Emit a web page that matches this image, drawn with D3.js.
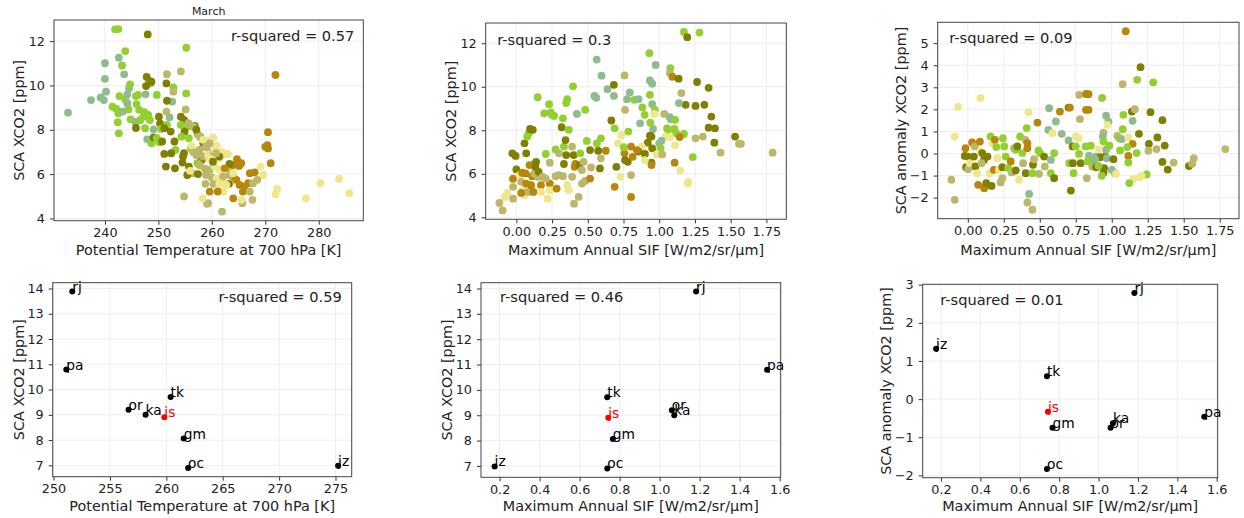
<!DOCTYPE html>
<html>
<head>
<meta charset="utf-8">
<script src="https://cdn.jsdelivr.net/npm/d3@7"></script>
<style>
  body { margin: 0; background: #fff; }
  svg { font-family: "DejaVu Sans", sans-serif; }
  .tick text { fill: #222; }
</style>
</head>
<body>
<svg id="fig" width="1244" height="518"></svg>
<script>
var svg = d3.select("#fig");

// colour keys used by the monthly points
var colorKey = {kh: "#f0e68c", ol: "#808000", dg: "#b8860b", yg: "#92d030", sg: "#8fbc8f", tn: "#bdb76b"};

// top left: potential temperature vs SCA XCO2 (March)
var tempPts = [
[233.1,8.77,"sg"],[241.9,12.53,"yg"],[242.5,12.54,"yg"],[248.0,12.3,"ol"],[255.2,11.7,"yg"],[243.8,11.55,"yg"],[240.0,11.0,"sg"],[242.6,11.25,"sg"],[243.2,10.9,"yg"],[243.6,10.5,"sg"],[240.0,10.3,"sg"],[240.2,9.72,"sg"],[237.4,9.34,"sg"],[239.2,9.46,"sg"],[239.8,9.34,"sg"],[241.4,9.04,"yg"],[242.1,8.95,"yg"],[242.5,8.74,"yg"],[242.4,8.34,"yg"],[242.6,7.84,"yg"],[242.7,9.52,"yg"],[243.3,8.82,"sg"],[243.8,9.37,"yg"],[244.2,9.6,"sg"],[244.5,9.87,"sg"],[244.7,10.05,"yg"],[244.4,8.92,"yg"],[244.8,8.47,"yg"],[244.2,9.19,"sg"],[245.8,9.52,"yg"],[246.2,9.57,"yg"],[245.9,9.16,"yg"],[245.7,8.35,"sg"],[245.8,8.08,"ol"],[246.4,8.9,"yg"],[246.6,8.44,"yg"],[247.2,8.59,"yg"],[247.6,9.6,"sg"],[247.8,10.39,"ol"],[248.3,10.2,"ol"],[248.5,10.09,"sg"],[248.7,10.17,"ol"],[247.7,9.97,"ol"],[247.4,8.8,"yg"],[248.1,8.67,"yg"],[248.4,8.44,"yg"],[247.5,8.07,"yg"],[247.9,7.57,"sg"],[248.7,7.39,"yg"],[249.1,7.66,"ol"],[249.1,8.02,"sg"],[249.7,9.57,"yg"],[250.1,8.59,"ol"],[250.3,8.29,"ol"],[250.5,8.04,"yg"],[249.7,7.62,"yg"],[250.2,7.44,"yg"],[250.7,7.47,"ol"],[251.1,6.91,"ol"],[251.4,6.34,"ol"],[251.6,10.51,"tn"],[251.5,10.09,"ol"],[252.8,9.91,"yg"],[252.8,9.72,"tn"],[252.6,9.27,"sg"],[251.6,9.31,"ol"],[251.5,8.82,"tn"],[252.1,8.56,"sg"],[251.6,8.22,"yg"],[251.1,8.07,"ol"],[252.3,7.92,"ol"],[253.0,7.47,"ol"],[253.2,7.09,"yg"],[252.4,6.94,"ol"],[253.1,6.26,"ol"],[254.2,10.63,"tn"],[255.2,9.64,"yg"],[255.1,8.92,"tn"],[254.2,8.59,"ol"],[254.8,8.44,"ol"],[254.2,8.22,"yg"],[255.4,8.14,"yg"],[254.9,7.92,"ol"],[254.3,7.69,"yg"],[255.7,7.62,"yg"],[256.1,7.17,"yg"],[254.8,6.94,"ol"],[254.5,6.52,"ol"],[255.7,6.34,"ol"],[256.4,6.04,"tn"],[254.8,4.99,"tn"],[256.8,8.18,"ol"],[257.3,7.81,"tn"],[257.8,7.69,"ol"],[258.4,7.39,"ol"],[257.6,6.94,"ol"],[258.1,6.64,"ol"],[258.9,5.96,"tn"],[258.8,5.56,"tn"],[259.3,4.69,"tn"],[257.3,6.49,"yg"],[255.4,5.96,"ol"],
[255.6,8.3,"tn"],[256.5,8.15,"tn"],[257.1,8.0,"ol"],[257.7,7.7,"tn"],[258.4,7.55,"kh"],[259.3,7.5,"kh"],[260.3,7.65,"kh"],[260.9,7.27,"kh"],[259.0,7.2,"tn"],[257.7,7.1,"tn"],[256.5,7.0,"tn"],[256.2,7.3,"kh"],[257.1,6.85,"tn"],[258.4,6.8,"tn"],[259.3,6.85,"kh"],[260.3,7.0,"tn"],[261.3,6.7,"kh"],[261.9,7.0,"kh"],[262.9,6.9,"kh"],[257.7,6.4,"tn"],[258.7,6.25,"tn"],[259.6,6.2,"tn"],[260.5,6.35,"kh"],[261.5,6.2,"kh"],[259.0,6.0,"tn"],[260.0,5.85,"tn"],[260.9,5.8,"kh"],[261.9,5.7,"kh"],[260.3,5.55,"tn"],[261.3,5.35,"kh"],[262.2,5.2,"kh"],[259.6,6.7,"kh"],[263.3,6.3,"tn"],[263.6,6.0,"tn"],[264.2,5.7,"kh"],[257.4,6.0,"ol"],[255.9,6.15,"kh"],[254.6,6.8,"ol"],
[271.9,10.47,"dg"],[270.5,7.89,"dg"],[270.0,7.23,"dg"],[270.4,7.31,"dg"],[270.5,7.16,"dg"],[271.0,6.49,"dg"],[269.1,6.34,"kh"],[269.6,5.96,"kh"],[272.2,5.33,"kh"],[271.9,5.09,"kh"],[277.6,4.91,"kh"],[280.3,5.59,"kh"],[283.8,5.78,"kh"],[285.7,5.14,"kh"],[268.5,5.74,"tn"],[268.0,6.08,"dg"],[267.1,6.04,"dg"],[267.6,4.84,"tn"],[265.7,4.69,"tn"],[265.1,6.37,"dg"],[264.7,6.67,"dg"],[265.5,6.49,"dg"],[264.0,6.41,"dg"],[263.3,6.46,"ol"],[263.2,5.56,"ol"],[263.0,6.91,"kh"],[262.1,6.86,"kh"],[261.4,6.79,"ol"],[260.2,6.56,"ol"],[260.5,7.09,"kh"],[260.2,7.66,"kh"],[259.6,7.39,"tn"],[258.9,7.24,"tn"],[260.8,6.94,"tn"],[262.4,6.26,"dg"],[262.1,5.89,"tn"],[264.0,5.89,"dg"],[264.6,5.74,"dg"],[265.2,5.51,"dg"],[266.1,5.44,"dg"],[266.8,5.59,"dg"],[265.8,5.21,"dg"],[264.0,4.91,"dg"],[261.9,4.31,"tn"],[259.1,4.66,"tn"],[258.3,4.91,"kh"],[261.1,5.21,"dg"],[259.6,5.21,"dg"],[261.4,5.59,"kh"],[262.7,5.51,"kh"],[263.3,5.96,"tn"],[264.0,6.04,"kh"],[265.5,4.84,"kh"],[267.1,5.21,"tn"],[267.7,5.59,"tn"]
];

// top middle: max annual SIF vs SCA XCO2
var sifPts = [
[-0.119,4.66,"tn"],[-0.096,4.32,"tn"],[-0.08,4.94,"kh"],[-0.064,5.12,"kh"],[-0.023,4.86,"tn"],[-0.023,5.4,"tn"],[-0.028,5.74,"kh"],[-0.023,5.78,"dg"],[-0.028,6.94,"ol"],[-0.005,6.82,"ol"],[0.0,6.2,"ol"],[0.023,5.94,"kh"],[0.041,6.05,"dg"],[0.064,6.02,"dg"],[0.034,5.63,"tn"],[0.046,5.25,"kh"],[0.057,5.02,"kh"],[0.069,5.55,"dg"],[0.08,5.17,"tn"],[0.034,5.12,"dg"],[0.092,6.4,"dg"],[0.11,5.89,"dg"],[0.103,5.48,"dg"],[0.119,5.17,"dg"],[0.126,6.02,"tn"],[0.149,5.86,"tn"],[0.128,6.45,"dg"],[0.069,6.94,"ol"],[0.057,7.4,"ol"],[0.076,7.71,"yg"],[0.087,7.86,"yg"],[0.096,8.06,"ol"],[0.115,8.02,"ol"],[0.138,6.55,"ol"],[0.133,6.32,"ol"],[0.156,6.09,"ol"],[0.149,9.52,"yg"],[0.195,8.78,"yg"],[0.206,6.91,"yg"],[0.229,9.2,"yg"],[0.241,8.82,"yg"],[0.248,8.71,"yg"],[0.264,8.66,"yg"],[0.275,7.12,"yg"],[0.234,6.51,"tn"],[0.234,5.55,"dg"],[0.234,5.25,"kh"],[0.183,5.86,"tn"],[0.206,5.78,"tn"],[0.172,5.48,"dg"],[0.172,5.17,"kh"],[0.218,4.86,"kh"],[0.282,5.32,"dg"],[0.298,6.94,"tn"],[0.298,5.94,"tn"],[0.275,5.89,"tn"],[0.326,5.89,"tn"],[0.317,8.14,"ol"],[0.326,8.55,"yg"],[0.333,7.25,"yg"],[0.344,7.55,"ol"],[0.349,9.25,"yg"],[0.356,9.43,"yg"],[0.367,8.02,"yg"],[0.356,5.48,"kh"],[0.367,5.25,"kh"],[0.333,6.45,"ol"],[0.349,6.86,"ol"],[0.39,7.25,"tn"],[0.397,10.02,"yg"],[0.401,6.86,"ol"],[0.408,6.32,"dg"],[0.413,6.45,"dg"],[0.39,5.86,"tn"],[0.404,4.63,"tn"],[0.424,8.75,"sg"],[0.447,6.94,"yg"],[0.44,6.4,"ol"],[0.459,6.17,"tn"],[0.47,6.55,"tn"],[0.436,4.94,"tn"],[0.482,8.94,"yg"],[0.459,5.55,"tn"],[0.482,5.68,"tn"],[0.516,5.78,"dg"],[0.493,7.51,"yg"],[0.516,7.09,"ol"],[0.546,9.58,"sg"],[0.56,9.49,"sg"],[0.562,11.25,"sg"],[0.573,7.06,"ol"],[0.564,7.4,"yg"],[0.592,7.63,"yg"],[0.596,10.51,"sg"],[0.523,6.29,"tn"],[0.585,6.25,"ol"],[0.592,6.71,"tn"],[0.626,7.06,"dg"],[0.638,9.89,"sg"],[0.683,9.58,"sg"],[0.683,10.09,"ol"],[0.665,8.45,"ol"],[0.688,8.09,"yg"],[0.711,7.4,"kh"],[0.7,6.32,"ol"],[0.729,5.86,"kh"],[0.688,5.4,"dg"],[0.734,7.78,"kh"],[0.757,10.52,"tn"],[0.761,8.94,"tn"],[0.775,9.43,"sg"],[0.794,9.74,"sg"],[0.784,7.94,"yg"],[0.757,6.94,"dg"],[0.761,6.63,"ol"],[0.78,6.55,"ol"],[0.803,5.94,"tn"],[0.803,4.94,"dg"],[0.752,7.22,"yg"],[0.826,9.4,"yg"],[0.803,7.25,"dg"],[0.814,6.78,"dg"],
[1.173,12.52,"yg"],[1.282,12.49,"yg"],[1.196,12.28,"ol"],[0.931,11.54,"yg"],[0.975,11.0,"sg"],[1.078,10.86,"yg"],[1.074,10.63,"tn"],[1.092,10.46,"dg"],[1.136,10.37,"ol"],[1.265,10.22,"ol"],[1.346,9.95,"ol"],[0.935,10.29,"sg"],[0.951,10.14,"sg"],[1.155,9.71,"tn"],[0.935,9.63,"yg"],[0.855,9.43,"sg"],[0.951,9.2,"sg"],[0.882,9.05,"yg"],[1.185,9.17,"ol"],[1.254,9.12,"ol"],[1.316,9.17,"ol"],[1.138,9.25,"sg"],[0.898,8.71,"yg"],[0.97,8.94,"yg"],[0.965,8.75,"kh"],[1.035,8.75,"tn"],[0.866,8.32,"sg"],[0.938,8.35,"yg"],[0.957,8.06,"sg"],[1.074,8.6,"sg"],[1.081,8.51,"sg"],[1.111,8.48,"yg"],[1.365,8.63,"ol"],[1.346,8.12,"ol"],[1.39,8.09,"ol"],[1.055,8.09,"yg"],[1.062,8.02,"yg"],[1.106,8.06,"yg"],[1.12,7.86,"yg"],[1.173,7.83,"yg"],[1.143,7.69,"dg"],[1.074,7.68,"kh"],[1.044,7.71,"kh"],[0.935,7.75,"ol"],[0.946,7.71,"ol"],[1.254,7.63,"tn"],[1.305,7.71,"tn"],[1.531,7.71,"ol"],[1.386,7.43,"ol"],[1.558,7.38,"tn"],[1.572,7.38,"tn"],[1.429,6.97,"tn"],[1.794,6.97,"tn"],[1.111,7.31,"kh"],[1.016,7.52,"sg"],[1.0,7.4,"sg"],[1.009,7.17,"yg"],[0.92,7.43,"ol"],[0.878,7.25,"kh"],[0.855,7.02,"ol"],[0.9,6.91,"ol"],[0.951,7.17,"ol"],[0.984,6.89,"kh"],[1.021,6.89,"tn"],[1.235,6.77,"yg"],[0.946,6.51,"ol"],[0.946,6.4,"dg"],[1.108,6.51,"dg"],[1.148,6.14,"kh"],[0.9,6.63,"kh"],[1.203,5.63,"kh"],[1.2,5.55,"kh"],[0.843,7.09,"dg"]
];

// top right: max annual SIF vs SCA anomaly
var anomPts = [
[-0.114,-1.19,"tn"],[-0.091,-2.1,"tn"],[-0.091,0.77,"kh"],[-0.067,2.11,"kh"],[0.088,2.52,"kh"],[-0.016,0.24,"dg"],[0.0,-0.14,"ol"],[-0.021,-0.11,"ol"],[-0.012,-0.62,"ol"],[0.002,-0.71,"tn"],[0.014,-0.44,"kh"],[0.03,0.5,"dg"],[0.049,0.32,"tn"],[0.042,-0.14,"ol"],[0.053,-0.59,"ol"],[0.065,-0.89,"kh"],[0.072,-1.42,"dg"],[0.084,0.54,"dg"],[0.088,0.09,"kh"],[0.1,0.02,"ol"],[0.112,-0.29,"ol"],[0.095,-0.44,"tn"],[0.114,-1.57,"dg"],[0.128,-1.34,"ol"],[0.137,-0.14,"ol"],[0.151,-0.89,"kh"],[0.158,0.77,"yg"],[0.165,-1.47,"ol"],[0.17,0.47,"kh"],[0.188,0.62,"dg"],[0.181,-0.74,"dg"],[0.198,0.29,"yg"],[0.205,-0.21,"kh"],[0.216,-0.74,"kh"],[0.228,-1.31,"tn"],[0.24,-1.12,"tn"],[0.244,0.69,"yg"],[0.253,0.32,"yg"],[0.263,-0.14,"yg"],[0.24,-0.62,"ol"],[0.281,-0.66,"yg"],[0.298,-0.36,"dg"],[0.305,-0.86,"tn"],[0.321,0.24,"tn"],[0.333,0.17,"yg"],[0.344,0.32,"ol"],[0.333,-0.77,"ol"],[0.363,0.77,"yg"],[0.356,-1.19,"kh"],[0.379,0.02,"yg"],[0.384,-0.44,"tn"],[0.4,0.62,"tn"],[0.409,1.15,"yg"],[0.414,0.47,"dg"],[0.402,-0.89,"ol"],[0.421,1.87,"kh"],[0.414,0.24,"dg"],[0.426,-1.83,"sg"],[0.414,-2.22,"tn"],[0.449,-2.55,"tn"],[0.453,-0.51,"ol"],[0.449,-0.89,"yg"],[0.46,-0.26,"tn"],[0.491,0.14,"yg"],[0.495,-0.92,"tn"],[0.484,1.4,"dg"],[0.502,0.02,"yg"],[0.535,-0.59,"tn"],[0.53,-0.14,"ol"],[0.565,2.05,"sg"],[0.56,1.07,"sg"],[0.588,0.92,"kh"],[0.577,-0.29,"sg"],[0.577,-0.89,"yg"],[0.6,0.02,"yg"],[0.6,-1.12,"ol"],[0.612,1.45,"sg"],[0.64,1.9,"dg"],[0.653,0.89,"sg"],[0.7,2.08,"ol"],[0.709,2.08,"dg"],[0.7,0.59,"sg"],[0.728,0.32,"ol"],[0.705,-0.44,"yg"],[0.735,-0.89,"yg"],[0.716,-1.68,"ol"],[0.774,2.66,"tn"],[0.779,1.56,"tn"],[0.821,2.7,"dg"],[0.821,1.98,"dg"],[0.751,0.77,"kh"],[0.77,0.69,"kh"],[0.784,-0.44,"ol"],[0.819,0.32,"yg"],[0.842,-0.1,"sg"],[0.75,0.32,"yg"],[0.73,-0.44,"ol"],[0.773,-0.02,"yg"],[0.865,-0.59,"tn"],[0.888,-0.14,"sg"],
[1.097,5.54,"dg"],[1.2,3.91,"ol"],[1.177,3.34,"yg"],[1.288,3.22,"yg"],[1.076,3.14,"tn"],[0.839,2.69,"dg"],[0.933,2.52,"yg"],[0.839,1.98,"dg"],[1.14,1.9,"ol"],[1.161,2.01,"tn"],[1.269,1.87,"ol"],[1.352,1.51,"ol"],[0.961,1.71,"sg"],[0.977,1.44,"sg"],[0.97,1.3,"kh"],[1.081,1.75,"yg"],[1.145,1.48,"sg"],[1.076,1.1,"yg"],[1.189,0.89,"ol"],[1.317,0.73,"ol"],[1.368,0.36,"ol"],[1.258,0.44,"ol"],[1.311,0.2,"tn"],[1.255,0.12,"tn"],[1.352,-0.38,"ol"],[1.389,-0.73,"ol"],[1.43,-0.41,"tn"],[1.536,-0.57,"ol"],[1.559,-0.47,"tn"],[1.57,-0.21,"tn"],[1.789,0.2,"tn"],[0.943,0.95,"tn"],[0.938,0.77,"sg"],[0.943,0.54,"yg"],[1.039,0.8,"tn"],[1.053,0.69,"yg"],[1.069,0.65,"sg"],[1.115,0.73,"kh"],[1.145,0.44,"dg"],[1.108,0.29,"yg"],[1.058,0.14,"yg"],[1.115,-0.11,"dg"],[1.115,-0.41,"yg"],[1.173,0.02,"yg"],[0.919,-0.17,"ol"],[0.954,-0.14,"ol"],[0.966,-0.21,"sg"],[0.961,0.17,"sg"],[0.855,0.35,"yg"],[0.908,0.2,"kh"],[0.885,-0.26,"sg"],[0.862,-0.36,"sg"],[0.892,-0.62,"ol"],[0.943,-0.86,"ol"],[0.947,-0.66,"ol"],[0.908,-0.56,"yg"],[1.012,-0.26,"ol"],[1.0,-0.74,"sg"],[1.023,-0.89,"sg"],[1.03,-0.92,"kh"],[0.931,-1.01,"yg"],[0.827,-1.12,"tn"],[0.832,-0.36,"yg"],[1.242,-0.95,"yg"],[1.196,-1.07,"kh"],[1.207,-1.01,"kh"],[1.15,-1.16,"kh"],[1.122,-1.34,"yg"],[0.984,0.35,"yg"]
];

// bottom row: site means
var sites   = ["rj", "pa", "tk", "or", "ka", "js", "gm", "oc", "jz"];
var siteTheta = [251.66, 251.13, 260.38, 256.65, 258.16, 259.82, 261.54, 261.93, 275.23];
var siteSif   = [1.182, 1.537, 0.738, 1.061, 1.073, 0.743, 0.766, 0.738, 0.175];
var siteSca   = [13.88, 10.79, 9.71, 9.2, 9.0, 8.9, 8.06, 6.9, 6.98];
var siteAnom  = [2.78, -0.46, 0.6, -0.75, -0.63, -0.33, -0.75, -1.83, 1.32];
var highlightSite = "js";

var rsq = ["0.57", "0.3", "0.09", "0.59", "0.46", "0.01"];
var tempTicks = [240, 250, 260, 270, 280];
var sifTicks = [0, 0.25, 0.5, 0.75, 1, 1.25, 1.5, 1.75];
var scaTicks = [4, 6, 8, 10, 12];
var anomTicks = [-2, -1, 0, 1, 2, 3, 4, 5];
var siteTempTicks = [250, 255, 260, 265, 270, 275];
var siteSifTicks = [0.2, 0.4, 0.6, 0.8, 1.0, 1.2, 1.4, 1.6];
var siteScaTicks = [7, 8, 9, 10, 11, 12, 13, 14];
var siteAnomTicks = [-2, -1, 0, 1, 2, 3];

var xLabTemp = "Potential Temperature at 700 hPa [K]",
    xLabSif = "Maximum Annual SIF [W/m2/sr/\u03bcm]",
    yLabSca = "SCA XCO2 [ppm]",
    yLabAnom = "SCA anomaly XCO2 [ppm]";

// matplotlib-like 5% margins
function padded(vals) {
    var e = d3.extent(vals), r = e[1] - e[0];
    return [e[0] - 0.05 * r, e[1] + 0.05 * r];
}

function makePanel(o) {
    var w = o.r - o.l, h = o.b - o.t;
    var g = svg.append("g").attr("transform", "translate(" + o.l + "," + o.t + ")");
    var x = d3.scaleLinear().domain(o.xDom).range([0, w]);
    var y = d3.scaleLinear().domain(o.yDom).range([h, 0]);

    // grid
    g.append("g").selectAll("line").data(o.xTicks).enter().append("line")
        .attr("x1", function(d) { return x(d); }).attr("x2", function(d) { return x(d); })
        .attr("y1", 0).attr("y2", h)
        .attr("stroke", "#eeeeee").attr("stroke-width", 1);
    g.append("g").selectAll("line").data(o.yTicks).enter().append("line")
        .attr("y1", function(d) { return y(d); }).attr("y2", function(d) { return y(d); })
        .attr("x1", 0).attr("x2", w)
        .attr("stroke", "#eeeeee").attr("stroke-width", 1);

    var xa = g.append("g").attr("transform", "translate(0," + h + ")")
        .call(d3.axisBottom(x).tickValues(o.xTicks).tickFormat(o.xFmt).tickSize(4).tickPadding(3.5));
    var ya = g.append("g")
        .call(d3.axisLeft(y).tickValues(o.yTicks).tickFormat(o.yFmt).tickSize(4).tickPadding(5));
    [xa, ya].forEach(function(a) {
        a.select(".domain").remove();
        a.selectAll(".tick line").attr("stroke", "#333");
        a.selectAll(".tick text").attr("font-size", 12.8).attr("font-family", "DejaVu Sans");
    });

    g.append("rect").attr("width", w).attr("height", h)
        .attr("fill", "none").attr("stroke", "#444").attr("stroke-width", 1);

    g.append("text")
        .attr("x", w / 2).attr("y", o.xLabY - o.t)
        .attr("dy", "0.35em")
        .attr("text-anchor", "middle").attr("font-size", 14.4).attr("fill", "#222")
        .text(o.xLab);
    g.append("text")
        .attr("transform", "translate(" + (o.yLabX - o.l) + "," + (h / 2) + ") rotate(-90)")
        .attr("dy", "0.35em")
        .attr("text-anchor", "middle").attr("font-size", 14.4).attr("fill", "#222")
        .text(o.yLab);

    g.append("text")
        .attr("x", o.rsqRight ? w - o.rsqDx : o.rsqDx).attr("y", o.rsqDy)
        .attr("text-anchor", o.rsqRight ? "end" : "start")
        .attr("font-size", 14.6).attr("fill", "#222")
        .text("r-squared = " + o.rsq);

    return {g: g, x: x, y: y};
}

var fmt2 = d3.format(".2f"), fmt1 = d3.format(".1f"), fmt0 = d3.format("d");

function drawCloud(p, pts) {
    p.g.append("g").selectAll("circle").data(pts).enter().append("circle")
        .attr("cx", function(d) { return p.x(d[0]); })
        .attr("cy", function(d) { return p.y(d[1]); })
        .attr("r", 3.9)
        .attr("fill", function(d) { return colorKey[d[2]]; });
}

function drawSites(p, xs, ys) {
    var data = sites.map(function(s, i) { return {name: s, x: xs[i], y: ys[i]}; });
    var col = function(d) { return d.name == highlightSite ? "#ff0000" : "#000"; };
    p.g.append("g").selectAll("circle").data(data).enter().append("circle")
        .attr("cx", function(d) { return p.x(d.x); })
        .attr("cy", function(d) { return p.y(d.y); })
        .attr("r", 3).attr("fill", col);
    p.g.append("g").selectAll("text").data(data).enter().append("text")
        .attr("x", function(d) { return p.x(d.x); })
        .attr("y", function(d) { return p.y(d.y); })
        .attr("font-size", 13.8).attr("fill", col)
        .text(function(d) { return d.name; });
}

var p1 = makePanel({l: 54, t: 20, r: 363.3, b: 220.7, xDom: padded(tempPts.map(function(d) { return d[0]; })),
    yDom: padded(tempPts.map(function(d) { return d[1]; })), xTicks: tempTicks, yTicks: scaTicks,
    xFmt: fmt0, yFmt: fmt0, xLab: xLabTemp, yLab: yLabSca, xLabY: 250, yLabX: 19,
    rsq: rsq[0], rsqRight: true, rsqDx: 9, rsqDy: 21});
drawCloud(p1, tempPts);
svg.append("text").attr("x", (54 + 363.3) / 2).attr("y", 15)
    .attr("text-anchor", "middle").attr("font-size", 11).attr("fill", "#222").text("March");

var p2 = makePanel({l: 485.7, t: 23, r: 786.3, b: 219.3, xDom: padded(sifPts.map(function(d) { return d[0]; })),
    yDom: padded(sifPts.map(function(d) { return d[1]; })), xTicks: sifTicks, yTicks: scaTicks,
    xFmt: fmt2, yFmt: fmt0, xLab: xLabSif, yLab: yLabSca, xLabY: 250, yLabX: 451,
    rsq: rsq[1], rsqRight: false, rsqDx: 11.5, rsqDy: 22});
drawCloud(p2, sifPts);

var p3 = makePanel({l: 937.7, t: 22.3, r: 1239, b: 218.7, xDom: padded(anomPts.map(function(d) { return d[0]; })),
    yDom: padded(anomPts.map(function(d) { return d[1]; })), xTicks: sifTicks, yTicks: anomTicks,
    xFmt: fmt2, yFmt: fmt0, xLab: xLabSif, yLab: yLabAnom, xLabY: 250, yLabX: 901,
    rsq: rsq[2], rsqRight: false, rsqDx: 11.5, rsqDy: 21});
drawCloud(p3, anomPts);

var p4 = makePanel({l: 52.7, t: 282.7, r: 351.7, b: 476.7, xDom: padded(siteTheta), yDom: padded(siteSca),
    xTicks: siteTempTicks, yTicks: siteScaTicks, xFmt: fmt0, yFmt: fmt0, xLab: xLabTemp, yLab: yLabSca,
    xLabY: 506, yLabX: 19, rsq: rsq[3], rsqRight: true, rsqDx: 10, rsqDy: 19});
drawSites(p4, siteTheta, siteSca);

var p5 = makePanel({l: 481, t: 282.7, r: 780.7, b: 477.3, xDom: padded(siteSif), yDom: padded(siteSca),
    xTicks: siteSifTicks, yTicks: siteScaTicks, xFmt: fmt1, yFmt: fmt0, xLab: xLabSif, yLab: yLabSca,
    xLabY: 506, yLabX: 446.5, rsq: rsq[4], rsqRight: false, rsqDx: 19, rsqDy: 19.5});
drawSites(p5, siteSif, siteSca);

var p6 = makePanel({l: 922.7, t: 284.3, r: 1217.7, b: 477.7, xDom: padded(siteSif), yDom: padded(siteAnom),
    xTicks: siteSifTicks, yTicks: siteAnomTicks, xFmt: fmt1, yFmt: fmt0, xLab: xLabSif, yLab: yLabAnom,
    xLabY: 506, yLabX: 886, rsq: rsq[5], rsqRight: false, rsqDx: 17.5, rsqDy: 21});
drawSites(p6, siteSif, siteAnom);
</script>
</body>
</html>
